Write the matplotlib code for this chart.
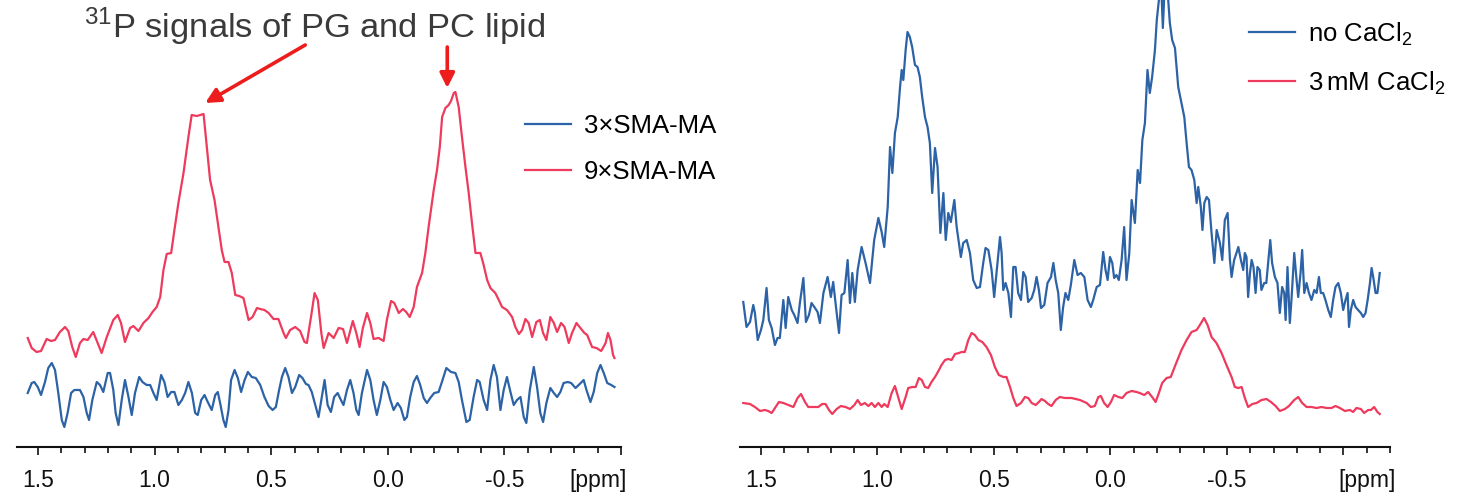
import numpy as np
import matplotlib
matplotlib.use("Agg")
import matplotlib.pyplot as plt
from matplotlib.lines import Line2D

plt.rcParams['font.family'] = ['Liberation Sans', 'DejaVu Sans']
plt.rcParams['mathtext.fontset'] = 'custom'
plt.rcParams['mathtext.rm'] = 'Liberation Sans'
plt.rcParams['axes.unicode_minus'] = False

# 31P spectra, chemical shift [ppm] vs intensity [a.u.]
# left: SMA-MA nanodiscs, 3x vs 9x polymer
shift_3x = [1.544, 1.527, 1.516, 1.501, 1.487, 1.470, 1.456, 1.441, 1.427, 1.413,
            1.398, 1.387, 1.373, 1.358, 1.344, 1.320, 1.305, 1.291, 1.281, 1.267,
            1.248, 1.234, 1.220, 1.201, 1.191, 1.177, 1.167, 1.155, 1.141, 1.127,
            1.112, 1.098, 1.084, 1.066, 1.052, 1.034, 1.019, 1.005, 0.991, 0.972,
            0.958, 0.944, 0.929, 0.915, 0.898, 0.883, 0.869, 0.855, 0.840, 0.826,
            0.815, 0.800, 0.786, 0.772, 0.755, 0.740, 0.729, 0.719, 0.705, 0.695,
            0.683, 0.672, 0.657, 0.643, 0.629, 0.614, 0.600, 0.583, 0.566, 0.547,
            0.529, 0.511, 0.494, 0.480, 0.466, 0.454, 0.440, 0.426, 0.411, 0.397,
            0.380, 0.366, 0.351, 0.340, 0.326, 0.311, 0.297, 0.283, 0.271,
            0.258, 0.244, 0.230, 0.215, 0.201, 0.190, 0.175, 0.161, 0.147, 0.135,
            0.125, 0.111, 0.089, 0.075, 0.061, 0.047, 0.032, 0.018, 0.004, -0.011,
            -0.025, -0.042, -0.056, -0.071, -0.082, -0.096, -0.111, -0.125, -0.139, -0.154,
            -0.168, -0.182, -0.199, -0.218, -0.232, -0.251, -0.271, -0.290, -0.304, -0.318,
            -0.337, -0.351, -0.368, -0.383, -0.394, -0.411, -0.426, -0.440, -0.454, -0.468,
            -0.483, -0.497, -0.511, -0.526, -0.540, -0.554, -0.569, -0.583, -0.594, -0.609,
            -0.626, -0.640, -0.654, -0.666, -0.680, -0.697, -0.712, -0.726, -0.740, -0.754,
            -0.772, -0.786, -0.805, -0.823, -0.840, -0.852, -0.869, -0.883, -0.898, -0.912,
            -0.926, -0.941, -0.958, -0.972]
int_3x = [54, 64, 65, 60, 52, 65, 79, 84, 77, 54,
          27, 20, 34, 54, 57, 57, 50, 34, 27, 47,
          65, 62, 55, 74, 74, 57, 34, 22, 47, 67,
          50, 32, 54, 70, 65, 62, 62, 54, 47, 72,
          65, 50, 55, 55, 42, 47, 54, 65, 54, 34,
          32, 47, 52, 45, 37, 52, 55, 44, 27, 20,
          37, 67, 77, 69, 55, 67, 75, 70, 69, 62,
          50, 41, 37, 40, 57, 70, 79, 70, 54, 60,
          72, 69, 63, 62, 55, 42, 30, 50, 67,
          42, 35, 50, 54, 47, 42, 57, 67, 54, 37,
          32, 54, 77, 67, 47, 32, 47, 65, 60, 47,
          37, 44, 39, 27, 30, 50, 65, 71, 62, 49,
          44, 49, 54, 55, 65, 79, 75, 74, 65, 47,
          25, 27, 50, 67, 65, 47, 37, 67, 82, 70,
          37, 57, 70, 55, 42, 47, 50, 30, 24, 57,
          80, 60, 34, 25, 44, 59, 54, 50, 55, 64,
          65, 64, 59, 63, 67, 57, 45, 55, 74, 82,
          74, 64, 62, 60]

shift_9x = [1.544, 1.527, 1.506, 1.487, 1.463, 1.444, 1.427, 1.406, 1.384, 1.370,
            1.353, 1.338, 1.320, 1.305, 1.287, 1.263, 1.244, 1.227, 1.205, 1.177,
            1.158, 1.144, 1.127, 1.105, 1.091, 1.069, 1.048, 1.026, 1.009, 0.991,
            0.976, 0.962, 0.948, 0.929, 0.915, 0.898, 0.876, 0.855, 0.841, 0.819,
            0.805, 0.790, 0.776, 0.762, 0.743, 0.726, 0.712, 0.700, 0.683, 0.669,
            0.654, 0.637, 0.619, 0.597, 0.580, 0.561, 0.547, 0.529, 0.511, 0.490,
            0.469, 0.447, 0.437, 0.419, 0.397, 0.376, 0.357, 0.347, 0.328, 0.314,
            0.300, 0.285, 0.275,
            0.254, 0.232, 0.211, 0.192, 0.175, 0.150, 0.135, 0.121, 0.107, 0.089,
            0.075, 0.061, 0.039, 0.018, 0.004, -0.014, -0.028, -0.047, -0.065, -0.079,
            -0.094, -0.111, -0.125, -0.147, -0.161, -0.175, -0.197, -0.211, -0.223, -0.233,
            -0.247, -0.261, -0.271, -0.283, -0.290, -0.304, -0.318, -0.333, -0.347, -0.361,
            -0.376, -0.397, -0.411, -0.426, -0.440, -0.461, -0.476, -0.490, -0.511, -0.533,
            -0.547, -0.562, -0.576, -0.590, -0.604, -0.619, -0.637, -0.652, -0.666, -0.680,
            -0.697, -0.712, -0.726, -0.743, -0.758, -0.776, -0.790, -0.809, -0.826, -0.843,
            -0.855, -0.876, -0.895, -0.915, -0.934, -0.944, -0.955, -0.966, -0.972]
int_9x = [109, 99, 95, 96, 108, 106, 107, 115, 120, 116,
          100, 90, 104, 108, 107, 115, 104, 94, 110, 127,
          132, 124, 105, 119, 121, 116, 124, 129, 135, 140,
          150, 177, 193, 194, 217, 244, 274, 310, 332, 331,
          332, 333, 300, 267, 247, 220, 197, 185, 185, 174,
          152, 151, 149, 127, 130, 139, 138, 137, 134, 128,
          128, 114, 109, 117, 120, 116, 105, 104, 132, 154,
          147, 114, 99,
          114, 109, 119, 118, 104, 126, 114, 100, 119, 134,
          124, 108, 109, 106, 127, 146, 144, 134, 138, 135,
          130, 140, 160, 174, 194, 220, 257, 277, 300, 330,
          339, 342, 346, 354, 355, 340, 310, 280, 254, 224,
          194, 194, 182, 167, 159, 154, 147, 140, 137, 130,
          120, 113, 117, 128, 124, 110, 125, 127, 114, 107,
          130, 124, 115, 124, 120, 104, 114, 124, 119, 114,
          112, 100, 99, 96, 104, 114, 107, 92, 89]

# right: without / with 3 mM CaCl2
shift_noca = [1.576, 1.562, 1.547, 1.533, 1.526, 1.514, 1.500, 1.490, 1.476, 1.466,
              1.454, 1.440, 1.429, 1.419, 1.404, 1.394, 1.383, 1.368, 1.357, 1.343,
              1.333, 1.318, 1.307, 1.294, 1.283, 1.268, 1.257, 1.247, 1.232, 1.214,
              1.200, 1.190, 1.178, 1.165, 1.154, 1.142, 1.128, 1.118, 1.108, 1.097,
              1.085, 1.068, 1.051, 1.032, 1.014, 0.996, 0.982, 0.971, 0.956, 0.946,
              0.936, 0.925, 0.913, 0.903, 0.896, 0.889, 0.879, 0.871, 0.861, 0.851,
              0.839, 0.828, 0.818, 0.808, 0.796, 0.785, 0.775, 0.765, 0.753, 0.742,
              0.730, 0.717, 0.707, 0.696, 0.685, 0.670, 0.660, 0.642, 0.632, 0.617,
              0.603, 0.589, 0.574, 0.560, 0.546, 0.536, 0.524, 0.510, 0.499, 0.489,
              0.474, 0.467, 0.460, 0.450, 0.438, 0.427, 0.417, 0.407, 0.396, 0.384,
              0.374, 0.364, 0.353, 0.338, 0.327, 0.317, 0.307, 0.298, 0.284, 0.270,
              0.255, 0.245, 0.235, 0.224, 0.213, 0.203, 0.193, 0.181,
              0.170, 0.155, 0.141, 0.127, 0.112, 0.098, 0.084, 0.074, 0.059, 0.045,
              0.031, 0.021, 0.012, 0.002, -0.008, -0.016, -0.026, -0.036, -0.048, -0.059,
              -0.069, -0.081, -0.091, -0.105, -0.117, -0.127, -0.137, -0.148, -0.159, -0.169,
              -0.179, -0.191, -0.199, -0.208, -0.217, -0.225, -0.234, -0.245, -0.255, -0.265,
              -0.277, -0.291, -0.305, -0.317, -0.327, -0.337, -0.348, -0.360, -0.370, -0.377,
              -0.388, -0.395, -0.403, -0.413, -0.423, -0.434, -0.446, -0.456, -0.470, -0.480,
              -0.491, -0.503, -0.513, -0.520, -0.531, -0.541, -0.549, -0.560, -0.570, -0.577,
              -0.584, -0.591, -0.599, -0.606, -0.614, -0.623, -0.631, -0.641, -0.648, -0.660,
              -0.669, -0.677, -0.686, -0.694, -0.706, -0.717, -0.727, -0.737, -0.746, -0.752,
              -0.760, -0.770, -0.777, -0.789, -0.799, -0.806, -0.816, -0.823, -0.832, -0.842,
              -0.852, -0.863, -0.875, -0.885, -0.895, -0.903, -0.913, -0.923, -0.935, -0.946,
              -0.956, -0.966, -0.978, -0.989, -0.999, -1.009, -1.018, -1.024, -1.032, -1.042,
              -1.052, -1.063, -1.075, -1.085, -1.095, -1.104, -1.114, -1.121, -1.128, -1.138,
              -1.146, -1.156]
int_noca = [145, 120, 125, 142, 134, 107, 117, 127, 159, 127,
            119, 102, 109, 109, 147, 119, 150, 137, 132, 124,
            144, 169, 125, 132, 144, 139, 135, 124, 154, 170,
            150, 165, 140, 114, 152, 154, 187, 144, 174, 145,
            177, 200, 184, 164, 207, 229, 215, 200, 240, 300,
            274, 314, 330, 360, 377, 367, 397, 415, 410, 400,
            382, 380, 370, 350, 330, 320, 304, 254, 299, 280,
            214, 254, 207, 234, 225, 247, 220, 190, 204, 207,
            194, 167, 159, 160, 184, 199, 197, 177, 150, 174,
            210, 194, 157, 164, 154, 130, 180, 180, 154, 147,
            175, 170, 145, 149, 157, 170, 157, 139, 142, 164,
            170, 184, 167, 154, 117, 140, 154, 147,
            162, 187, 172, 174, 170, 147, 140, 147, 160, 162,
            195, 177, 167, 190, 184, 169, 172, 167, 187, 220,
            167, 194, 247, 224, 277, 264, 307, 324, 377, 354,
            370, 397, 427, 447, 467, 419, 467, 457, 424, 407,
            399, 360, 344, 330, 304, 280, 277, 267, 244, 260,
            240, 217, 244, 250, 247, 214, 184, 217, 204, 187,
            227, 234, 187, 170, 187, 194, 200, 187, 177, 194,
            190, 150, 174, 187, 180, 154, 180, 177, 157, 164,
            164, 184, 207, 184, 170, 164, 134, 160, 154, 127,
            180, 124, 147, 194, 167, 150, 174, 197, 154, 164,
            154, 147, 157, 154, 170, 154, 154, 147, 137, 130,
            147, 160, 164, 154, 137, 147, 154, 120, 137, 147,
            140, 137, 134, 130, 134, 147, 164, 179, 170, 154,
            154, 174]

shift_ca = [1.576, 1.547, 1.526, 1.504, 1.483, 1.469, 1.454, 1.440, 1.423, 1.404,
            1.383, 1.361, 1.343, 1.328, 1.311, 1.297, 1.276, 1.254, 1.237, 1.223,
            1.208, 1.194, 1.175, 1.157, 1.137, 1.118, 1.099, 1.085, 1.071, 1.054,
            1.039, 1.025, 1.011, 0.996, 0.982, 0.971, 0.956, 0.939, 0.925, 0.911,
            0.896, 0.879, 0.868, 0.850, 0.836, 0.822, 0.810, 0.796, 0.782, 0.768,
            0.753, 0.736, 0.725, 0.710, 0.696, 0.682, 0.667, 0.650, 0.639, 0.625,
            0.610, 0.596, 0.582, 0.567, 0.550, 0.532, 0.513, 0.496, 0.479, 0.460,
            0.446, 0.431, 0.417, 0.403, 0.384, 0.367, 0.353, 0.338, 0.321, 0.307,
            0.296, 0.281, 0.267, 0.253, 0.235, 0.217, 0.195,
            0.167, 0.131, 0.102, 0.084, 0.067, 0.052, 0.041, 0.027, 0.012, -0.002,
            -0.016, -0.034, -0.051, -0.069, -0.091, -0.112, -0.126, -0.145, -0.162, -0.179,
            -0.194, -0.208, -0.222, -0.241, -0.259, -0.279, -0.305, -0.327, -0.348, -0.370,
            -0.384, -0.402, -0.417, -0.434, -0.455, -0.477, -0.498, -0.520, -0.534, -0.549,
            -0.563, -0.577, -0.591, -0.609, -0.627, -0.649, -0.670, -0.689, -0.709, -0.727,
            -0.749, -0.766, -0.789, -0.806, -0.823, -0.842, -0.863, -0.885, -0.906, -0.928,
            -0.949, -0.966, -0.985, -1.006, -1.028, -1.042, -1.056, -1.075, -1.089, -1.106,
            -1.118, -1.132, -1.146, -1.156]
int_ca = [44, 43, 40, 36, 37, 36, 34, 39, 45, 44,
          42, 40, 49, 53, 45, 40, 40, 40, 43, 43,
          37, 33, 38, 41, 40, 38, 42, 47, 42, 44,
          41, 44, 40, 44, 40, 43, 40, 54, 61, 50,
          38, 50, 59, 60, 60, 69, 67, 60, 59, 65,
          70, 77, 82, 87, 88, 87, 93, 94, 95, 95,
          107, 114, 112, 107, 105, 100, 92, 80, 72, 70,
          70, 60, 49, 41, 44, 50, 49, 44, 42, 45,
          48, 46, 43, 41, 47, 50, 49,
          49, 47, 44, 40, 41, 50, 51, 44, 40, 45,
          52, 50, 49, 54, 56, 55, 54, 52, 55, 50,
          45, 54, 64, 69, 70, 82, 97, 107, 115, 117,
          122, 129, 122, 110, 104, 94, 82, 70, 60, 59,
          60, 49, 40, 43, 44, 47, 48, 45, 41, 36,
          38, 41, 47, 50, 44, 40, 40, 39, 40, 39,
          39, 41, 39, 36, 37, 35, 39, 38, 34, 37,
          37, 40, 35, 33]

tick_pos = [1.5, 1.0, 0.5, 0.0, -0.5]
tick_lab = ['1.5', '1.0', '0.5', '0.0', '-0.5']

blue = '#2c62a6'
red = '#ee3a5c'
arrow_red = '#ee1d1d'


def style_axis(ax, x_end):
    ax.set_xlim(1.59, x_end)
    ax.set_ylim(0, 447)
    for s in ['top', 'left', 'right']:
        ax.spines[s].set_visible(False)
    ax.spines['bottom'].set_linewidth(1.5)
    ax.spines['bottom'].set_color('#111111')
    ax.set_yticks([])
    ax.set_xticks(tick_pos + [-1.0])
    ax.set_xticklabels(tick_lab + [''])
    ax.set_xticks(np.round(np.arange(x_end, 1.55, 0.1), 2), minor=True)
    ax.tick_params(axis='x', which='major', direction='out', length=5.5,
                   width=1.2, pad=10, labelsize=16.5, colors='#111111')
    ax.tick_params(axis='x', which='minor', direction='out', length=4.2,
                   width=1.2, colors='#111111')
    ax.annotate('[ppm]', xy=(x_end, 0), xycoords=('data', 'axes fraction'),
                xytext=(4, -15.5), textcoords='offset points',
                ha='right', va='top', fontsize=16.5, color='#111111')
    ax.patch.set_alpha(0)


fig = plt.figure(figsize=(14.6, 4.98), dpi=100)
ax1 = fig.add_axes([17 / 1460, 51 / 498, 604 / 1460, 447 / 498])
ax2 = fig.add_axes([740 / 1460, 51 / 498, 650 / 1460, 447 / 498])

line_kw = dict(lw=1.6, solid_joinstyle='round')
ax1.plot(shift_3x, int_3x, color=blue, **line_kw)
ax1.plot(shift_9x, int_9x, color=red, **line_kw)
style_axis(ax1, -1.0)

ax2.plot(shift_noca, int_noca, color=blue, **line_kw)
ax2.plot(shift_ca, int_ca, color=red, **line_kw)
style_axis(ax2, -1.2)

# legends
leg_kw = dict(frameon=False, fontsize=18.5, handlelength=1.8, handletextpad=0.5,
              labelspacing=0.85, borderpad=0, borderaxespad=0,
              bbox_transform=fig.transFigure, loc='upper left')
h1 = [Line2D([], [], color=blue, lw=1.6), Line2D([], [], color=red, lw=1.6)]
fig.legend(h1, ['3×SMA-MA', '9×SMA-MA'],
           bbox_to_anchor=(525 / 1460, 1 - 114 / 498), **leg_kw)
fig.legend(h1, [r'no CaCl$_\mathregular{2}$', r'3$\,$mM CaCl$_\mathregular{2}$'],
           bbox_to_anchor=(1249 / 1460, 1 - 20 / 498), **leg_kw)

# title and arrows to the two lipid peaks
fig.text(84 / 1460, 1 - 38 / 498,
         r'$^{\mathregular{31}}$P signals of PG and PC lipid',
         fontsize=24.8, color='#3a3a3a', va='baseline')
akw = dict(arrowstyle='-|>', color=arrow_red, lw=2.6, mutation_scale=22,
           shrinkA=0, shrinkB=0)
ax1.annotate('', xy=(0.783, 344), xytext=(0.354, 402), arrowprops=akw,
             annotation_clip=False)
ax1.annotate('', xy=(-0.255, 359), xytext=(-0.255, 400), arrowprops=akw,
             annotation_clip=False)

fig.savefig('out.png', dpi=100)
